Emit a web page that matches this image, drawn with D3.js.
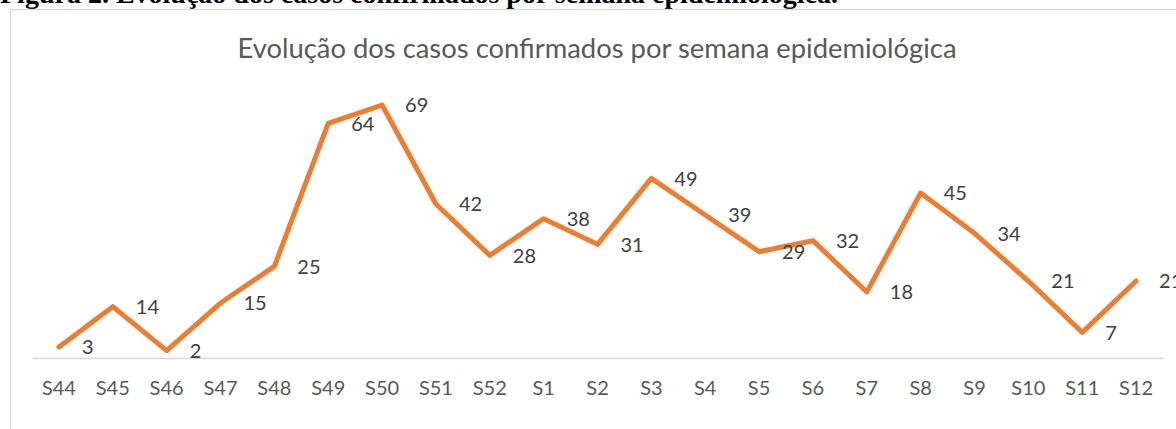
<!DOCTYPE html>
<html>
<head>
<meta charset="utf-8">
<script src="https://cdn.jsdelivr.net/npm/d3@7"></script>
<style>
  body { margin: 0; background: #fff; }
  svg text { font-family: Lato, 'Open Sans', sans-serif; }
</style>
</head>
<body>
<svg id="chart"></svg>
<script>
'use strict';

// semanas epidemiológicas e casos confirmados
const weeks = ['S44', 'S45', 'S46', 'S47', 'S48', 'S49', 'S50', 'S51', 'S52', 'S1', 'S2',
  'S3', 'S4', 'S5', 'S6', 'S7', 'S8', 'S9', 'S10', 'S11', 'S12'];
const cases = [3, 14, 2, 15, 25, 64, 69, 42, 28, 38, 31, 49, 39, 29, 32, 18, 45, 34, 21, 7, 21];

const chartTitle = 'Evolução dos casos confirmados por semana epidemiológica';
const figCaption = 'Figura 2. Evolução dos casos confirmados por semana epidemiológica.';

const W = 1176, H = 429;
const svg = d3.select('#chart').attr('width', W).attr('height', H);

// caption from the document, cut off at the top
svg.append('text')
  .attr('x', 0).attr('y', 3)
  .style('font-family', "'Liberation Serif', 'Times New Roman', serif")
  .style('font-weight', 'bold')
  .style('font-size', '28px')
  .attr('fill', '#000')
  .text(figCaption);

// chart frame
svg.append('rect')
  .attr('x', 10.5).attr('y', 9.5)
  .attr('width', W).attr('height', H)
  .attr('fill', 'none')
  .attr('stroke', '#d9d9d9')
  .attr('stroke-width', 1.3);

svg.append('text')
  .attr('x', 597).attr('y', 58)
  .attr('text-anchor', 'middle')
  .attr('fill', '#595959')
  .style('font-size', '27.4px')
  .text(chartTitle);

const x = d3.scaleBand().domain(weeks).range([32, 1163]).padding(0);
const y = d3.scaleLinear().domain([0, 80]).range([358, 64.7]);
const cx = (d) => x(d) + x.bandwidth() / 2;

// category axis
const xAxis = svg.append('g')
  .attr('transform', `translate(0,${y(0)})`)
  .call(d3.axisBottom(x).tickSize(0).tickSizeOuter(0).tickPadding(23));
xAxis.select('.domain').attr('stroke', '#d9d9d9').attr('stroke-width', 1.5);
xAxis.selectAll('text')
  .attr('fill', '#595959')
  .style('font-family', "Lato, 'Open Sans', sans-serif")
  .style('font-size', '20px');

const pts = weeks.map((w, i) => ({ week: w, value: cases[i] }));

svg.append('path')
  .datum(pts)
  .attr('fill', 'none')
  .attr('stroke', '#ed7d31')
  .attr('stroke-width', 5)
  .attr('stroke-linejoin', 'round')
  .attr('stroke-linecap', 'round')
  .attr('d', d3.line().x((d) => cx(d.week)).y((d) => y(d.value)));

// data labels, placed right of each point
svg.append('g')
  .selectAll('text')
  .data(pts)
  .join('text')
  .attr('x', (d) => cx(d.week) + 23)
  .attr('y', (d) => y(d.value))
  .attr('dy', '0.36em')
  .attr('fill', '#404040')
  .style('font-size', '20px')
  .text((d) => d.value);
</script>
</body>
</html>
